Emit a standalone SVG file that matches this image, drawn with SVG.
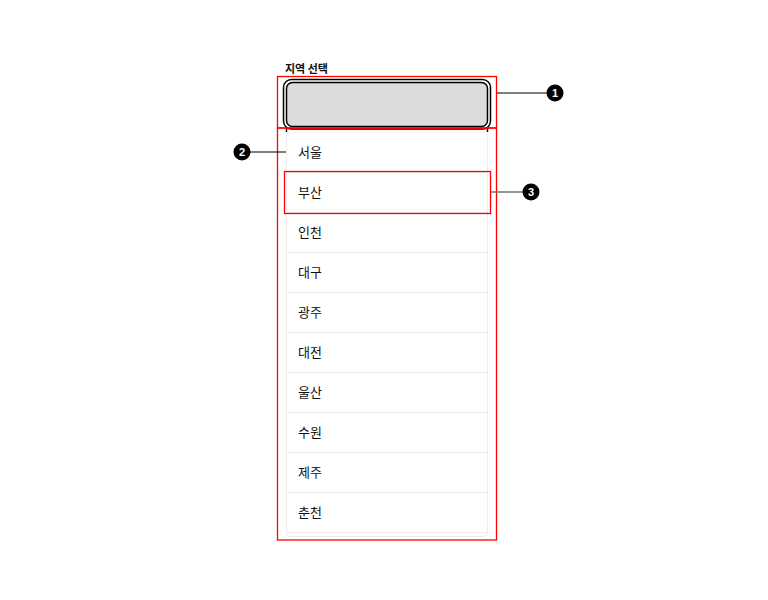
<svg xmlns="http://www.w3.org/2000/svg" width="768" height="600" viewBox="0 0 768 600">
<style>
.lbl{font-family:"Noto Sans CJK KR","Noto Sans",sans-serif;font-size:13px;fill:#111}
.title{font-family:"Noto Sans CJK KR","Noto Sans",sans-serif;font-size:11px;font-weight:bold;fill:#111}
.sep{stroke:#ececec;stroke-width:1}
.hl{fill:none;stroke:#ff0000;stroke-width:1.3}
.badge{fill:#000}
.num{font-family:"Liberation Sans",Arial,sans-serif;font-size:11px;font-weight:bold;fill:#fff;text-anchor:middle}
</style>
<rect width="768" height="600" fill="#fff"/>
<g id="title"><text class="title" x="285" y="73">지역 선택</text></g>
<g id="input">
<rect x="283.5" y="79.5" width="207" height="49.5" rx="8" fill="#fff" stroke="#000" stroke-width="1.5"/>
<rect x="286.5" y="82.5" width="201" height="44" rx="6" fill="#dcdcdc" stroke="#000" stroke-width="1.5"/>
<line x1="286.5" y1="128" x2="286.5" y2="132" stroke="#000" stroke-width="1.5"/>
<line x1="487.5" y1="128" x2="487.5" y2="132" stroke="#000" stroke-width="1.5"/>
</g>
<g id="list">
<rect x="286.5" y="132" width="201" height="404.5" rx="4" fill="#fff" stroke="#ececec"/>
<line class="sep" x1="287" y1="172.5" x2="487" y2="172.5"/>
<line class="sep" x1="287" y1="212.5" x2="487" y2="212.5"/>
<line class="sep" x1="287" y1="252.5" x2="487" y2="252.5"/>
<line class="sep" x1="287" y1="292.5" x2="487" y2="292.5"/>
<line class="sep" x1="287" y1="332.5" x2="487" y2="332.5"/>
<line class="sep" x1="287" y1="372.5" x2="487" y2="372.5"/>
<line class="sep" x1="287" y1="412.5" x2="487" y2="412.5"/>
<line class="sep" x1="287" y1="452.5" x2="487" y2="452.5"/>
<line class="sep" x1="287" y1="492.5" x2="487" y2="492.5"/>
<line class="sep" x1="287" y1="532.5" x2="487" y2="532.5"/>
<text class="lbl" x="298" y="156.5">서울</text>
<text class="lbl" x="298" y="196.5">부산</text>
<text class="lbl" x="298" y="236.5">인천</text>
<text class="lbl" x="298" y="276.5">대구</text>
<text class="lbl" x="298" y="316.5">광주</text>
<text class="lbl" x="298" y="356.5">대전</text>
<text class="lbl" x="298" y="396.5">울산</text>
<text class="lbl" x="298" y="436.5">수원</text>
<text class="lbl" x="298" y="476.5">제주</text>
<text class="lbl" x="298" y="516.5">춘천</text>
</g>
<g id="highlights">
<rect class="hl" x="277.5" y="76.5" width="219" height="51.5"/>
<rect class="hl" x="277.5" y="128" width="219" height="412"/>
<rect class="hl" x="284.5" y="171.5" width="206" height="42"/>
</g>
<g id="connectors">
<line x1="497" y1="93" x2="547" y2="93" stroke="#000" stroke-width="1.2"/>
<line x1="250" y1="152" x2="286" y2="152" stroke="#000" stroke-width="1.2"/>
<line x1="491" y1="192" x2="523" y2="192" stroke="#777" stroke-width="1.5"/>
</g>
<g id="callout1"><circle class="badge" cx="555" cy="93" r="8.5"/><text class="num" x="555" y="97">1</text></g>
<g id="callout2"><circle class="badge" cx="242" cy="152" r="8.5"/><text class="num" x="242" y="156">2</text></g>
<g id="callout3"><circle class="badge" cx="531" cy="192" r="8.5"/><text class="num" x="531" y="196">3</text></g>
</svg>
